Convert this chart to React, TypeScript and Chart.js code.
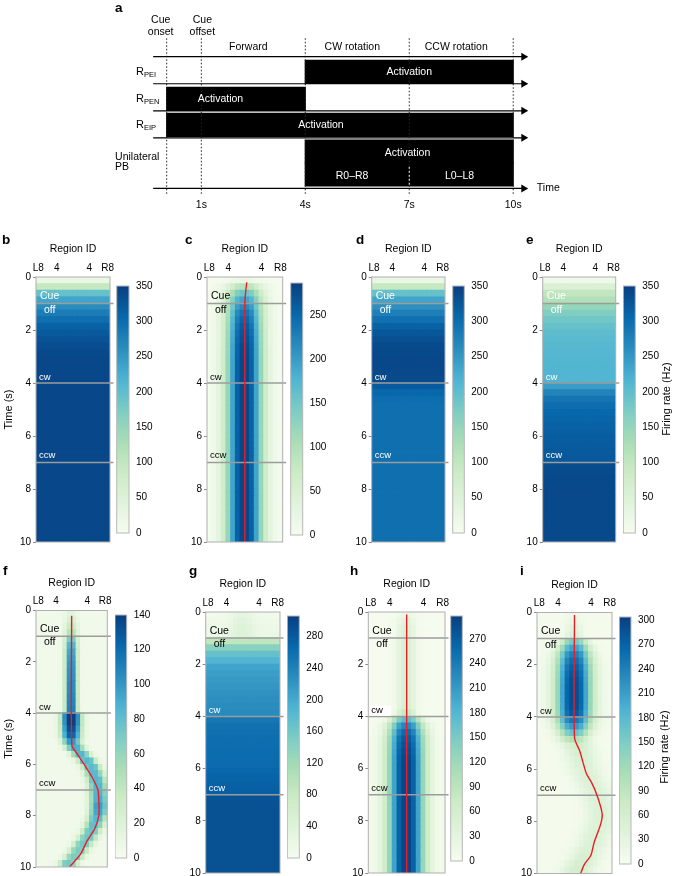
import React, { useEffect, useRef } from 'react';
import { Chart, registerables } from 'chart.js';

Chart.register(...registerables);
const FONT = '"Liberation Sans", Arial, Helvetica, sans-serif';
Chart.defaults.font.family = FONT;
Chart.defaults.color = '#000';

// ================= DATA : panel a (protocol) =================
const eventTimes = [0, 1, 4, 7, 10];
const timeTickValues = [1, 4, 7, 10];
const cueLabelTimes = [0, 1];
const cueLabelLines = [['Cue', 'onset'], ['Cue', 'offset']];
const phaseNames = ['Forward', 'CW rotation', 'CCW rotation'];
const phaseStart = [1, 4, 7];
const phaseEnd = [4, 7, 10];
const rowSubNames = ['PEI', 'PEN', 'EIP'];
const activationStart = [4, 0, 0, 4]; // R_PEI, R_PEN, R_EIP, Unilateral PB
const activationEnd = [10, 4, 10, 10];
const activationTextTime = [7.0, 1.55, 4.45, 6.95];
const pbSideLabels = ['R0–R8', 'L0–L8'];
const pbSideTimes = [5.35, 8.45];
const pbSwitchTime = 7;

// ================= DATA : heat maps =================
const timeStep = 0.25; // s per row
const regionCount = 16;
const regionTickIndex = [0, 4, 11, 15];
const regionTickLabels = ['L8', '4', '4', 'R8'];
const markTimes = [1, 4, 7];

// uniform panels (firing rate per time row, Hz)
const bRate = [
  25, 95, 195, 235, 262, 282, 298, 312,
  322, 330, 336, 340, 342, 342, 342, 342,
  342, 342, 342, 342, 342, 342, 342, 342,
  342, 342, 342, 342, 342, 342, 342, 342,
  342, 342, 342, 342, 342, 342, 342, 342];
const dRate = [
  25, 95, 195, 235, 258, 278, 296, 312,
  325, 333, 338, 340, 341, 341, 340, 338,
  320, 306, 300, 298, 298, 298, 298, 298,
  298, 298, 298, 298, 298, 298, 298, 298,
  298, 298, 298, 298, 298, 298, 298, 298];
const eRate = [
  15, 55, 100, 120, 150, 170, 185, 195,
  203, 207, 210, 212, 213, 214, 215, 215,
  245, 272, 290, 300, 306, 310, 313, 316,
  318, 320, 322, 324, 336, 338, 340, 340,
  340, 340, 340, 340, 340, 340, 340, 340];
const gRate = [
  10, 12, 15, 18, 90, 140, 172, 188,
  205, 212, 216, 220, 224, 227, 230, 232,
  252, 257, 259, 261, 262, 263, 264, 265,
  270, 272, 274, 276, 288, 289, 290, 290,
  290, 290, 290, 290, 290, 290, 290, 290];
const gBumpAmp = [
  20, 25, 28, 25, 0, 0, 0, 0,
  0, 0, 0, 0, 0, 0, 0, 0,
  0, 0, 0, 0, 0, 0, 0, 0,
  0, 0, 0, 0, 0, 0, 0, 0,
  0, 0, 0, 0, 0, 0, 0, 0];

// bump panels
const cBumpAmp = [
  15, 90, 150, 190, 215, 235, 248, 258,
  265, 270, 274, 276, 278, 278, 278, 278,
  278, 278, 278, 278, 278, 278, 278, 278,
  278, 278, 278, 278, 278, 278, 278, 278,
  278, 278, 278, 278, 278, 278, 278, 278];
const cBumpWidth = 2.3;

const hBumpAmp = [
  15, 28, 38, 42, 45, 45, 45, 45,
  45, 45, 45, 45, 45, 45, 48, 75,
  170, 225, 252, 268, 276, 282, 286, 288,
  288, 288, 288, 288, 288, 288, 288, 288,
  288, 288, 288, 288, 288, 288, 288, 288];
const hBumpWidth = [
  1.0, 1.0, 1.0, 1.0, 1.0, 1.0, 1.0, 1.0,
  1.0, 1.0, 1.0, 1.0, 1.0, 1.0, 1.0, 1.0,
  1.8, 2.1, 2.2, 2.3, 2.3, 2.3, 2.3, 2.3,
  2.3, 2.3, 2.3, 2.3, 2.3, 2.3, 2.3, 2.3,
  2.3, 2.3, 2.3, 2.3, 2.3, 2.3, 2.3, 2.3];

const fBumpAmp = [
  10, 18, 30, 40, 65, 80, 88, 92,
  95, 97, 98, 100, 100, 102, 103, 105,
  140, 138, 128, 118, 95, 85, 80, 80,
  78, 78, 80, 80, 82, 85, 92, 88,
  80, 75, 72, 70, 68, 65, 65, 68];
const fBumpCenter = [
  7.5, 7.5, 7.5, 7.5, 7.5, 7.5, 7.5, 7.5,
  7.5, 7.5, 7.5, 7.5, 7.5, 7.5, 7.5, 7.5,
  7.5, 7.5, 7.5, 7.5, 7.6, 8.3, 9.6, 11.0,
  12.0, 12.6, 13.1, 13.4, 13.6, 13.7, 13.7, 13.6,
  13.2, 12.7, 12.0, 11.2, 10.2, 9.2, 8.2, 6.9];
const fBumpWidth = [
  0.65, 0.65, 0.65, 0.65, 0.65, 0.65, 0.65, 0.65,
  0.65, 0.65, 0.65, 0.65, 0.65, 0.65, 0.65, 0.65,
  1.2, 1.2, 1.2, 1.2, 1.1, 1.1, 1.1, 1.1,
  1.1, 1.1, 1.1, 1.1, 1.1, 1.1, 1.1, 1.1,
  1.1, 1.1, 1.1, 1.1, 1.1, 1.1, 1.1, 1.1];

const iBumpAmp = [
  10, 18, 28, 40, 150, 200, 235, 255,
  268, 278, 285, 287, 287, 287, 285, 275,
  245, 210, 160, 100, 60, 50, 45, 42,
  40, 40, 40, 40, 40, 40, 40, 40,
  40, 40, 40, 40, 42, 48, 52, 56];
const iBumpCenter = [
  7.5, 7.5, 7.5, 7.5, 7.5, 7.5, 7.5, 7.5,
  7.5, 7.5, 7.5, 7.5, 7.5, 7.5, 7.5, 7.5,
  7.5, 7.5, 7.5, 7.5, 8.2, 8.7, 9.1, 9.5,
  10.0, 10.6, 11.3, 12.0, 12.6, 13.0, 13.3, 13.3,
  13.0, 12.5, 11.9, 11.4, 10.5, 9.8, 9.0, 8.3];
const iBumpWidth = [
  0.9, 0.9, 0.9, 0.9, 1.6, 1.9, 2.1, 2.2,
  2.3, 2.3, 2.3, 2.3, 2.3, 2.3, 2.3, 2.3,
  2.3, 2.2, 2.0, 1.9, 1.9, 1.9, 2.0, 2.0,
  2.0, 2.0, 2.0, 2.0, 2.0, 2.0, 2.0, 2.0,
  2.0, 2.0, 2.0, 2.0, 2.0, 2.0, 2.0, 2.0];

// bump position tracks (red lines): time (s) and region position
const cTrackT = [0.2, 0.7, 1.0, 10];
const cTrackX = [7.9, 7.6, 7.5, 7.5];
const fTrackT = [0.2, 5.25, 5.6, 6.0, 6.5, 7.0, 7.5, 8.0, 8.5, 9.0, 9.5, 10];
const fTrackX = [7.5, 7.55, 8.8, 10.3, 12.1, 13.4, 13.6, 13.6, 12.7, 10.9, 9.5, 7.0];
const hTrackT = [0.1, 10];
const hTrackX = [7.5, 7.5];
const iTrackT = [0.1, 4.8, 5.3, 5.8, 6.2, 6.5, 7.0, 7.7, 8.1, 8.8, 9.3, 9.65, 10];
const iTrackX = [7.5, 7.5, 8.6, 9.4, 10.1, 11.1, 12.3, 13.4, 13.1, 11.7, 11.0, 9.6, 8.8];

// ================= colour map (GnBu) =================
const GNBU = [[247, 252, 240], [224, 243, 219], [204, 235, 197], [168, 221, 181], [123, 204, 196],
  [78, 179, 211], [43, 140, 190], [8, 104, 172], [8, 64, 129]];
function cmap(f: number) {
  const g = Math.max(0, Math.min(1, f)) * (GNBU.length - 1);
  const i = Math.min(Math.floor(g), GNBU.length - 2);
  const r = g - i;
  const a = GNBU[i], b = GNBU[i + 1];
  const c = (j: number) => Math.round(a[j] + (b[j] - a[j]) * r);
  return `rgb(${c(0)},${c(1)},${c(2)})`;
}

// ================= panel definitions (layout) =================
type Arr = number | number[] | undefined;
type Panel = {
  letter: string; letterPos: [number, number];
  x0: number; x1: number; y0: number; y1: number;
  cb: [number, number, number, number];
  vmax: number; step: number;
  base: Arr; amp?: Arr; center?: Arr; width?: Arr;
  trackT?: number[]; trackX?: number[];
  showTime?: boolean; rateTitle?: [number, number];
  textColor: string[]; textBg?: (string | null)[];
};

const W = '#fff', K = '#000';
const PANELS: Panel[] = [
  { letter: 'b', letterPos: [2, 233], x0: 36, x1: 110, y0: 277, y1: 542, cb: [116.7, 129, 281.7, 537.3],
    vmax: 350, step: 50, base: bRate, showTime: true, textColor: [W, W, W, W] },
  { letter: 'c', letterPos: [185, 233], x0: 207, x1: 282.7, y0: 277, y1: 542, cb: [290.7, 302.7, 278, 540],
    vmax: 287, step: 50, base: 3, amp: cBumpAmp, center: 7.5, width: cBumpWidth, trackT: cTrackT, trackX: cTrackX,
    textColor: [K, K, K, K] },
  { letter: 'd', letterPos: [356, 233], x0: 371.7, x1: 445, y0: 277, y1: 542, cb: [452.7, 464.3, 281.7, 537.3],
    vmax: 350, step: 50, base: dRate, textColor: [W, W, W, W] },
  { letter: 'e', letterPos: [526, 233], x0: 542.7, x1: 615.7, y0: 277, y1: 542, cb: [623.3, 635.3, 281.7, 537.3],
    vmax: 350, step: 50, base: eRate, rateTitle: [666.5, 399], textColor: [W, W, W, W] },
  { letter: 'f', letterPos: [3, 564], x0: 36, x1: 107.3, y0: 610.5, y1: 867, cb: [115, 126.7, 610.7, 862.7],
    vmax: 140, step: 20, base: 5, amp: fBumpAmp, center: fBumpCenter, width: fBumpWidth, trackT: fTrackT, trackX: fTrackX,
    showTime: true, textColor: [K, K, K, K] },
  { letter: 'g', letterPos: [189, 564], x0: 205.7, x1: 280, y0: 612, y1: 873, cb: [287.3, 299.3, 611, 862.7],
    vmax: 306, step: 40, base: gRate, amp: gBumpAmp, center: 7.5, width: 1.5, textColor: [K, K, W, W] },
  { letter: 'h', letterPos: [350, 564], x0: 368.3, x1: 445, y0: 612, y1: 873, cb: [450.7, 462.3, 611, 866],
    vmax: 298, step: 30, base: 4, amp: hBumpAmp, center: 7.5, width: hBumpWidth, trackT: hTrackT, trackX: hTrackX,
    textColor: [K, K, K, K], textBg: [null, null, W, null] },
  { letter: 'i', letterPos: [520, 564], x0: 537, x1: 612, y0: 612.5, y1: 873.5, cb: [619.3, 631, 612.3, 868.3],
    vmax: 304, step: 30, base: 5, amp: iBumpAmp, center: iBumpCenter, width: iBumpWidth, trackT: iTrackT, trackX: iTrackX,
    rateTitle: [664.5, 747], textColor: [K, K, K, K] },
];

const EVENT_TEXT = [
  { text: 'Cue', t: 0.72, dx: 4, size: 10.5 },
  { text: 'off', t: 1.24, dx: 8, size: 10.5 },
  { text: 'cw', t: 3.78, dx: 3, size: 9.5 },
  { text: 'ccw', t: 6.74, dx: 3, size: 9.5 },
];

function pick(v: Arr, k: number, d = 0) {
  if (v === undefined) return d;
  return typeof v === 'number' ? v : v[k];
}
function cellValue(p: Panel, k: number, col: number) {
  let v = pick(p.base, k);
  const a = pick(p.amp, k);
  if (a) {
    const c = pick(p.center, k, 7.5);
    const w = pick(p.width, k, 1);
    const d = Math.max(Math.abs(col - c) - 0.5, 0);
    v += a * Math.exp(-(d * d) / (2 * w * w));
  }
  return v;
}
function rowCount() {
  return Math.round(10 / timeStep);
}

const framePlugin = (color: string) => ({
  id: 'frame',
  afterDatasetsDraw(chart: any) {
    const { ctx, chartArea: a } = chart;
    ctx.save();
    ctx.strokeStyle = color;
    ctx.lineWidth = 1;
    ctx.strokeRect(a.left, a.top, a.right - a.left, a.bottom - a.top);
    ctx.restore();
  },
});

// ================= heat map chart =================
const AX_LEFT = 34, AX_TOP = 33.3, PAD_R = 10, PAD_B = 10;

function heatGeom(p: Panel) {
  const cl = Math.floor(p.x0 - AX_LEFT);
  const ct = Math.floor(p.y0 - AX_TOP);
  const w = Math.ceil(p.x1 - cl + PAD_R);
  const h = Math.ceil(p.y1 - ct + PAD_B);
  return { cl, ct, w, h, left: p.x0 - cl, top: p.y0 - ct, right: w - (p.x1 - cl), bottom: h - (p.y1 - ct) };
}

function heatConfig(p: Panel) {
  const g = heatGeom(p);
  const cells: any[] = [];
  const colors: string[] = [];
  const n = rowCount();
  for (let k = 0; k < n; k++) {
    for (let c = 0; c < regionCount; c++) {
      cells.push({ x: c, y: [k * timeStep, (k + 1) * timeStep] });
      colors.push(cmap(cellValue(p, k, c) / p.vmax));
    }
  }
  const colW = (p.x1 - p.x0) / regionCount;
  const lineExt = 3.5 / colW;
  const datasets: any[] = [];
  if (p.trackT && p.trackX) {
    datasets.push({
      type: 'line', data: p.trackT.map((t, i) => ({ x: p.trackX![i], y: t })),
      borderColor: '#ee1c25', borderWidth: 1.4, pointRadius: 0, tension: 0.25, order: 0,
    });
  }
  markTimes.forEach((t) => datasets.push({
    type: 'line', data: [{ x: -0.5, y: t }, { x: regionCount - 0.5 + lineExt, y: t }],
    borderColor: '#9c9c9c', borderWidth: 1.5, pointRadius: 0, clip: false, order: 1,
  }));
  datasets.push({
    type: 'bar', data: cells, backgroundColor: colors, borderWidth: 0,
    barPercentage: 1, categoryPercentage: 1, inflateAmount: 0.5, order: 2,
  });

  const labelsPlugin = {
    id: 'eventText',
    afterDatasetsDraw(chart: any) {
      const { ctx, chartArea: a, scales } = chart;
      ctx.save();
      EVENT_TEXT.forEach((e, i) => {
        const y = scales.y.getPixelForValue(e.t);
        const x = a.left + e.dx;
        ctx.font = `${e.size}px ${FONT}`;
        ctx.textBaseline = 'middle';
        ctx.textAlign = 'left';
        const bg = p.textBg ? p.textBg[i] : null;
        if (bg) {
          const wd = ctx.measureText(e.text).width;
          ctx.fillStyle = bg;
          ctx.fillRect(x - 2, y - e.size * 0.55, wd + 10, e.size * 1.1);
        }
        ctx.fillStyle = p.textColor[i];
        ctx.fillText(e.text, x, y);
      });
      ctx.restore();
    },
  };

  return {
    type: 'bar',
    data: { datasets },
    options: {
      responsive: false, animation: false, events: [], devicePixelRatio: 1,
      layout: { padding: { left: 0, top: 0, right: g.right, bottom: g.bottom } },
      plugins: { legend: { display: false }, tooltip: { enabled: false } },
      scales: {
        x: {
          type: 'linear', position: 'top', min: -0.5, max: regionCount - 0.5, offset: false,
          grid: { display: false, drawTicks: false, offset: false }, border: { display: false },
          ticks: {
            padding: 3, font: { size: 10 }, autoSkip: false, maxRotation: 0,
            callback: (v: number) => {
              const j = regionTickIndex.indexOf(v);
              return j >= 0 ? regionTickLabels[j] : null;
            },
          },
          afterBuildTicks: (s: any) => { s.ticks = regionTickIndex.map((v) => ({ value: v })); },
          afterFit: (s: any) => { s.height = g.top; },
          title: { display: true, text: 'Region ID', padding: 0, font: { size: 10.5 } },
        },
        y: {
          type: 'linear', reverse: true, min: 0, max: 10,
          grid: { display: true, drawOnChartArea: false, drawTicks: true, tickLength: 3, color: '#8a8a8a' },
          border: { display: false },
          ticks: { stepSize: 2, padding: 2, font: { size: 10 } },
          afterFit: (s: any) => { s.width = g.left; },
          title: { display: !!p.showTime, text: 'Time (s)', padding: 0, font: { size: 11 } },
        },
      },
    },
    plugins: [framePlugin('#b0b0b0'), labelsPlugin],
  };
}

// ================= colour bar chart =================
const CB_SLICES = 120;
function cbGeom(p: Panel) {
  const [x0, x1, y0, y1] = p.cb;
  const cl = Math.floor(x0);
  const ct = Math.floor(y0 - 8);
  const w = p.rateTitle ? 675 - cl : Math.ceil(x1 - cl + 30);
  const h = Math.ceil(y1 - ct + 8);
  return { cl, ct, w, h, padL: x0 - cl, padT: y0 - ct, padB: h - (y1 - ct), axisW: w - (x1 - cl) };
}
function cbConfig(p: Panel) {
  const g = cbGeom(p);
  const slices: any[] = [];
  const cols: string[] = [];
  for (let i = 0; i < CB_SLICES; i++) {
    slices.push({ x: 0, y: [(i * p.vmax) / CB_SLICES, ((i + 1) * p.vmax) / CB_SLICES] });
    cols.push(cmap((i + 0.5) / CB_SLICES));
  }
  const rate = p.rateTitle;
  const titlePlugin = {
    id: 'rateTitle',
    afterDraw(chart: any) {
      if (!rate) return;
      const { ctx } = chart;
      ctx.save();
      ctx.translate(rate[0] - g.cl, rate[1] - g.ct);
      ctx.rotate(-Math.PI / 2);
      ctx.font = `11px ${FONT}`;
      ctx.fillStyle = '#000';
      ctx.textAlign = 'center';
      ctx.textBaseline = 'middle';
      ctx.fillText('Firing rate (Hz)', 0, 0);
      ctx.restore();
    },
  };
  return {
    type: 'bar',
    data: { datasets: [{ data: slices, backgroundColor: cols, borderWidth: 0, barPercentage: 1, categoryPercentage: 1, inflateAmount: 0.5 }] },
    options: {
      responsive: false, animation: false, events: [], devicePixelRatio: 1,
      layout: { padding: { left: g.padL, top: g.padT, bottom: g.padB, right: 0 } },
      plugins: { legend: { display: false }, tooltip: { enabled: false } },
      scales: {
        x: {
          type: 'linear', min: -0.5, max: 0.5, display: false, offset: false,
          afterBuildTicks: (s: any) => { s.ticks = [{ value: -0.5 }, { value: 0.5 }]; },
        },
        y: {
          type: 'linear', position: 'right', min: 0, max: p.vmax,
          grid: { display: false, drawTicks: false }, border: { display: false },
          ticks: { stepSize: p.step, padding: 7, font: { size: 10 }, includeBounds: false },
          afterFit: (s: any) => { s.width = g.axisW; },
        },
      },
    },
    plugins: [framePlugin('#b8b8b8'), titlePlugin],
  };
}

// ================= panel a chart =================
const A = {
  h: 216, padL: 114.7, padR: 109.8, padT: 36.4, axisH: 20,
  xMin: -1.5, xMax: 11.5, yMin: -0.75, yMax: 5.15,
  arrowY: [0, 1, 2, 3, 4.87], arrowFrom: -0.39, arrowTo: 10.3,
  dotFrom: -0.68, dotTo: 5.1,
  barY: [[0.56], [1.56], [2.52], [3.505, 4.355]], barPx: 23,
  splitFrom: 4.07, splitTo: 4.78,
  cueY: [-1.36, -0.9], cueDx: [-6, 1],
  phaseY: -0.35, phaseDx: -5,
  actTextY: [0.56, 1.56, 2.52, 3.57], pbSideY: 4.41,
  rowLabelX: -0.885, rowLabelY: [0.56, 1.56, 2.52],
  pbLabelX: -1.49, pbLabelY: [3.7, 4.1],
  timeLabelX: 10.68, timeLabelY: 4.87,
};

function panelAConfig() {
  const datasets: any[] = [];
  datasets.push({
    type: 'line', data: [{ x: pbSwitchTime, y: A.splitFrom }, { x: pbSwitchTime, y: A.splitTo }],
    borderColor: '#fff', borderWidth: 1, borderDash: [2, 2], pointRadius: 0, order: 0,
  });
  A.arrowY.forEach((y) => datasets.push({
    type: 'line', data: [{ x: A.arrowFrom, y }, { x: A.arrowTo, y }],
    borderColor: '#000', borderWidth: 1.2, pointRadius: [0, 4.6], pointStyle: 'triangle', pointRotation: 90,
    pointBackgroundColor: '#000', pointBorderColor: '#000', pointBorderWidth: 0, clip: false, order: 1,
  }));
  eventTimes.forEach((t) => datasets.push({
    type: 'line', data: [{ x: t, y: A.dotFrom }, { x: t, y: A.dotTo }],
    borderColor: '#222', borderWidth: 1, borderDash: [1.5, 2], pointRadius: 0, clip: false, order: 2,
  }));
  const bars: any[] = [];
  activationStart.forEach((s, i) => A.barY[i].forEach((y) => bars.push({ x: [s, activationEnd[i]], y })));
  datasets.push({
    type: 'bar', indexAxis: 'y', data: bars, backgroundColor: '#000', borderWidth: 0,
    barThickness: A.barPx, inflateAmount: 0.6, order: 3,
  });

  const textPlugin = {
    id: 'protocolText',
    afterDraw(chart: any) {
      const { ctx, scales } = chart;
      const X = (t: number) => scales.x.getPixelForValue(t);
      const Y = (u: number) => scales.y.getPixelForValue(u);
      const txt = (s: string, x: number, y: number, size = 10.5, color = '#000', align = 'center') => {
        ctx.font = `${size}px ${FONT}`;
        ctx.fillStyle = color;
        ctx.textAlign = align;
        ctx.textBaseline = 'middle';
        ctx.fillText(s, x, y);
      };
      ctx.save();
      cueLabelTimes.forEach((t, i) => {
        cueLabelLines[i].forEach((s, j) => txt(s, X(t) + A.cueDx[i], Y(A.cueY[j])));
      });
      phaseNames.forEach((s, i) => txt(s, X((phaseStart[i] + phaseEnd[i]) / 2) + A.phaseDx, Y(A.phaseY)));
      activationTextTime.forEach((t, i) => txt('Activation', X(t), Y(A.actTextY[i]), 10.5, '#fff'));
      pbSideLabels.forEach((s, i) => txt(s, X(pbSideTimes[i]), Y(A.pbSideY), 10.5, '#fff'));
      rowSubNames.forEach((s, i) => {
        const x = X(A.rowLabelX), y = Y(A.rowLabelY[i]);
        txt('R', x, y, 11, '#000', 'left');
        ctx.font = `11px ${FONT}`;
        const w = ctx.measureText('R').width;
        txt(s, x + w, y + 3.5, 7.5, '#000', 'left');
      });
      txt('Unilateral', X(A.pbLabelX), Y(A.pbLabelY[0]), 10.5, '#000', 'left');
      txt('PB', X(A.pbLabelX), Y(A.pbLabelY[1]), 10.5, '#000', 'left');
      txt('Time', X(A.timeLabelX), Y(A.timeLabelY), 10.5, '#000', 'left');
      ctx.restore();
    },
  };

  return {
    type: 'bar',
    data: { datasets },
    options: {
      responsive: false, animation: false, events: [], devicePixelRatio: 1,
      layout: { padding: { left: A.padL, right: A.padR, top: A.padT, bottom: 0 } },
      plugins: { legend: { display: false }, tooltip: { enabled: false } },
      scales: {
        x: {
          type: 'linear', position: 'bottom', min: A.xMin, max: A.xMax, offset: false,
          grid: { display: false, drawTicks: false }, border: { display: false },
          ticks: { padding: 3, font: { size: 10.5 }, autoSkip: false, maxRotation: 0, callback: (v: number) => `${v}s` },
          afterBuildTicks: (s: any) => { s.ticks = timeTickValues.map((v) => ({ value: v })); },
          afterFit: (s: any) => { s.height = A.axisH; },
        },
        y: { type: 'linear', reverse: true, min: A.yMin, max: A.yMax, display: false, offset: false },
      },
    },
    plugins: [textPlugin],
  };
}

// ================= React =================
function ChartBox(props: { left: number; top: number; width: number; height: number; make: () => any }) {
  const ref = useRef<HTMLCanvasElement>(null);
  useEffect(() => {
    const chart = new Chart(ref.current as HTMLCanvasElement, props.make());
    return () => chart.destroy();
  }, []);
  return (
    <canvas ref={ref} width={props.width} height={props.height}
      style={{ position: 'absolute', left: props.left, top: props.top, width: props.width, height: props.height }} />
  );
}

function Letter({ ch, x, y }: { ch: string; x: number; y: number }) {
  return (
    <div style={{ position: 'absolute', left: x, top: y, fontFamily: FONT, fontWeight: 'bold', fontSize: 13.5, lineHeight: '14px' }}>{ch}</div>
  );
}

function HeatPanel({ p }: { p: Panel }) {
  const g = heatGeom(p);
  const c = cbGeom(p);
  return (
    <>
      <ChartBox left={g.cl} top={g.ct} width={g.w} height={g.h} make={() => heatConfig(p)} />
      <ChartBox left={c.cl} top={c.ct} width={c.w} height={c.h} make={() => cbConfig(p)} />
      <Letter ch={p.letter} x={p.letterPos[0]} y={p.letterPos[1]} />
    </>
  );
}

export default function App() {
  return (
    <div style={{ position: 'absolute', left: 0, top: 0, width: 675, height: 876, overflow: 'hidden', background: '#fff' }}>
      <ChartBox left={0} top={0} width={675} height={A.h} make={panelAConfig} />
      <Letter ch="a" x={115} y={1} />
      {PANELS.map((p) => <HeatPanel key={p.letter} p={p} />)}
    </div>
  );
}
